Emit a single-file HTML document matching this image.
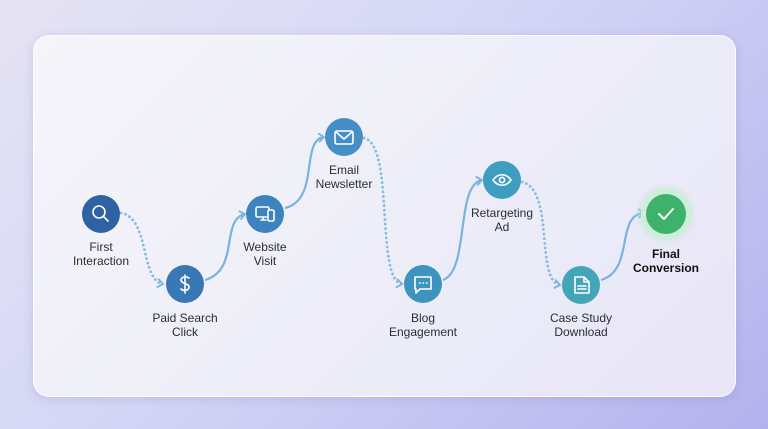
<!DOCTYPE html>
<html><head><style>
html,body{margin:0;padding:0}
body{width:768px;height:429px;overflow:hidden;background:linear-gradient(135deg,#e6e3f3 0%,#d3d6f6 45%,#b3b2ee 100%);font-family:"Liberation Sans",sans-serif;position:relative}
.card{position:absolute;left:33px;top:35px;width:701px;height:360px;border-radius:16px;background:linear-gradient(135deg,#f6f5fa,#eeeef8 50%,#e7e5f7);box-shadow:0 2px 10px rgba(90,90,160,.18);border:1px solid rgba(255,255,255,.8)}
.lbl{position:absolute;width:120px;margin-left:-60px;text-align:center;font-size:12px;line-height:14px;color:#2a2d38}
</style></head><body>
<div class="card"></div>
<svg width="768" height="429" style="position:absolute;left:0;top:0">
<defs>
<marker id="a" markerWidth="10" markerHeight="10" refX="7" refY="5" orient="auto" markerUnits="userSpaceOnUse"><path d="M2,1 L7,5 L2,9" fill="none" stroke="#7ab3dd" stroke-width="1.8" stroke-linecap="round"/></marker>
<radialGradient id="g"><stop offset="0.6" stop-color="#bfe8cf"/><stop offset="1" stop-color="#bfe8cf" stop-opacity="0"/></radialGradient>
</defs>
<g fill="none" stroke="#7ab3dd" stroke-width="2.2">
<g stroke-dasharray="0.1 4.5" stroke-linecap="round" stroke-width="2.8" stroke="#86bce0">
<path d="M121,213 C150,218 140,280 163,284" marker-end="url(#a)"/>
<path d="M364,138 C395,145 375,280 402,284" marker-end="url(#a)"/>
<path d="M522,182 C555,190 535,280 560,285" marker-end="url(#a)"/>
</g>
<path d="M205,280 C240,270 220,220 245,214" marker-end="url(#a)"/>
<path d="M285,208 C320,200 300,140 324,137" marker-end="url(#a)"/>
<path d="M443,280 C470,270 455,185 482,180" marker-end="url(#a)"/>
<path d="M601,280 C635,270 615,215 644,213" marker-end="url(#a)"/>
</g>
<circle cx="666" cy="214" r="31" fill="url(#g)"/>
<circle cx="666" cy="214" r="25" fill="#cdeedb"/>
<circle cx="101" cy="214" r="19" fill="#2f62a2"/>
<circle cx="185" cy="284" r="19" fill="#3a77b5"/>
<circle cx="265" cy="214" r="19" fill="#3d84bf"/>
<circle cx="344" cy="137" r="19" fill="#4490c6"/>
<circle cx="423" cy="284" r="19" fill="#3d94bd"/>
<circle cx="502" cy="180" r="19" fill="#3e9dc0"/>
<circle cx="581" cy="285" r="19" fill="#44a5b9"/>
<circle cx="666" cy="214" r="20" fill="#3db26a"/>
<g fill="none" stroke="#fff" stroke-width="1.6" stroke-linecap="round" stroke-linejoin="round">
<circle cx="99" cy="212" r="6"/><path d="M103.5,216.5 L108,221"/>
<path d="M189,278 C186,276 181,277 181,280 C181,284 189,283 189,287 C189,291 183,291 181,289 M185,275 V293"/>
<rect x="256" y="207" width="13" height="10" rx="1.5"/><path d="M261,220 H266 M263,217 V220"/><rect x="268" y="210" width="6" height="11" rx="1.5" fill="#3d84bf"/>
<rect x="335" y="131" width="18" height="13" rx="2"/><path d="M336,132 L344,139 L352,132"/>
<path d="M415,277 H431 V289 H420 L416,293 V289 H415 Z"/><path d="M419.5,283 h.5 M423,283 h.5 M426.5,283 h.5"/>
<path d="M493,180 C498,173 506,173 511,180 C506,187 498,187 493,180 Z"/><circle cx="502" cy="180" r="2.6"/>
<path d="M575,277 H584 L589,282 V293 H575 Z M584,277 V282 H589 M578,286 H586 M578,289 H586"/>
<path d="M659,214 L664,219 L673,209" stroke-width="2"/>
</g>
</svg>
<div class="lbl" style="left:101px;top:240px">First<br>Interaction</div>
<div class="lbl" style="left:185px;top:311px">Paid Search<br>Click</div>
<div class="lbl" style="left:265px;top:240px">Website<br>Visit</div>
<div class="lbl" style="left:344px;top:163px">Email<br>Newsletter</div>
<div class="lbl" style="left:423px;top:311px">Blog<br>Engagement</div>
<div class="lbl" style="left:502px;top:206px">Retargeting<br>Ad</div>
<div class="lbl" style="left:581px;top:311px">Case Study<br>Download</div>
<div class="lbl" style="left:666px;top:247px;font-weight:bold;color:#111">Final<br>Conversion</div>
</body></html>
